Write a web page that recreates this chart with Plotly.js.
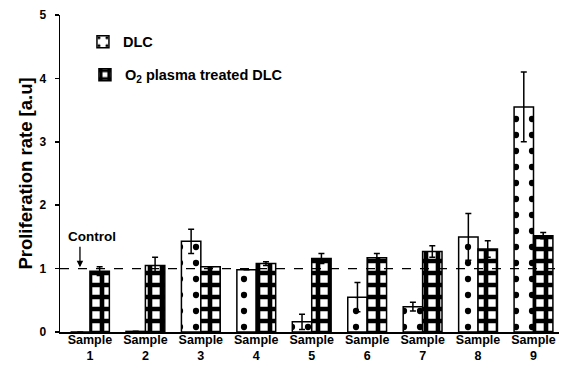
<!DOCTYPE html>
<html>
<head>
<meta charset="utf-8">
<script src="https://cdn.plot.ly/plotly-3.0.1.min.js"></script>
<style>html,body{margin:0;padding:0;background:#fff;}#chart{width:563px;height:365px;}</style>
</head>
<body>
<div id="chart"></div>
<script>
const categories = ["Sample<br>1","Sample<br>2","Sample<br>3","Sample<br>4","Sample<br>5","Sample<br>6","Sample<br>7","Sample<br>8","Sample<br>9"];
const dlcValues = [0.0, 0.01, 1.43, 0.98, 0.16, 0.55, 0.40, 1.50, 3.55];
const dlcErrors = [0, 0, 0.19, 0, 0.12, 0.23, 0.07, 0.37, 0.55];
const o2Values = [0.96, 1.05, 1.03, 1.08, 1.16, 1.17, 1.27, 1.31, 1.52];
const o2Errors = [0.07, 0.13, 0, 0.03, 0.08, 0.07, 0.09, 0.13, 0.05];
const controlLevel = 1;
const yTicks = [0, 1, 2, 3, 4, 5];

const FONT = "Liberation Sans, Arial, sans-serif";

const traces = [
  {
    type: "bar", name: "DLC", x: categories, y: dlcValues, showlegend: true,
    error_y: {type: "data", array: dlcErrors, visible: true, color: "#000", thickness: 1.5, width: 3},
    marker: {color: "#fff", line: {color: "#000", width: 1.5},
      pattern: {shape: ".", fgcolor: "#000", fgopacity: 1, bgcolor: "#fff", size: 16, solidity: 0.12, fillmode: "replace"}},
    legend: "legend"
  },
  {
    type: "bar", name: "O<sub>2</sub> plasma treated DLC", x: categories, y: o2Values, showlegend: true,
    error_y: {type: "data", array: o2Errors, visible: true, color: "#000", thickness: 1.5, width: 3},
    marker: {color: "#fff", line: {color: "#000", width: 1.5},
      pattern: {shape: "+", fgcolor: "#000", fgopacity: 1, bgcolor: "#fff", size: 12, solidity: 0.62, fillmode: "replace"}},
    legend: "legend2"
  }
];

const layout = {
  width: 563, height: 365,
  margin: {l: 60, r: 4, t: 15, b: 33},
  paper_bgcolor: "#fff", plot_bgcolor: "#fff",
  showlegend: true,
  font: {family: FONT, color: "#000", size: 12, weight: "bold"},
  barmode: "group", bargap: 0.3, bargroupgap: 0,
  xaxis: {
    type: "category", range: [-0.54, 8.46], showline: true, linecolor: "#000", linewidth: 2,
    ticks: "", showgrid: false, zeroline: false, ticklabelstandoff: -5,
    tickfont: {family: FONT, size: 12.5, weight: "bold"}
  },
  yaxis: {
    range: [0, 5], tickvals: yTicks, showline: true, linecolor: "#000", linewidth: 1.5,
    ticks: "outside", ticklen: 4, tickwidth: 1.5, tickcolor: "#000",
    showgrid: false, zeroline: false, ticklabelstandoff: 6,
    tickfont: {family: FONT, size: 12, weight: "bold"},
    title: {text: "Proliferation rate [a.u]", font: {family: FONT, size: 18.5, weight: "bold"}, standoff: 2}
  },
  legend: {x: 0.046, xanchor: "left", y: 0.966, yanchor: "top", bgcolor: "rgba(0,0,0,0)",
    font: {family: FONT, size: 14.5, weight: "bold"}},
  legend2: {x: 0.05, xanchor: "left", y: 0.862, yanchor: "top", bgcolor: "rgba(0,0,0,0)",
    font: {family: FONT, size: 14.5, weight: "bold"}},
  shapes: [
    {type: "line", xref: "paper", x0: 0, x1: 1, yref: "y", y0: controlLevel, y1: controlLevel,
     line: {color: "#000", width: 1.2, dash: "dash"}}
  ],
  annotations: [
    {xref: "x", yref: "y", x: -0.18, y: controlLevel + 0.02, ax: 0, ay: -22, text: "",
     showarrow: true, arrowhead: 2, arrowsize: 1, arrowwidth: 1.3, arrowcolor: "#000"},
    {xref: "x", yref: "y", x: 0.03, y: 1.5, text: "Control", showarrow: false,
     font: {family: FONT, size: 13.5, weight: "bold"}}
  ]
};

Plotly.newPlot("chart", traces, layout, {displayModeBar: false, staticPlot: true});
</script>
</body>
</html>
